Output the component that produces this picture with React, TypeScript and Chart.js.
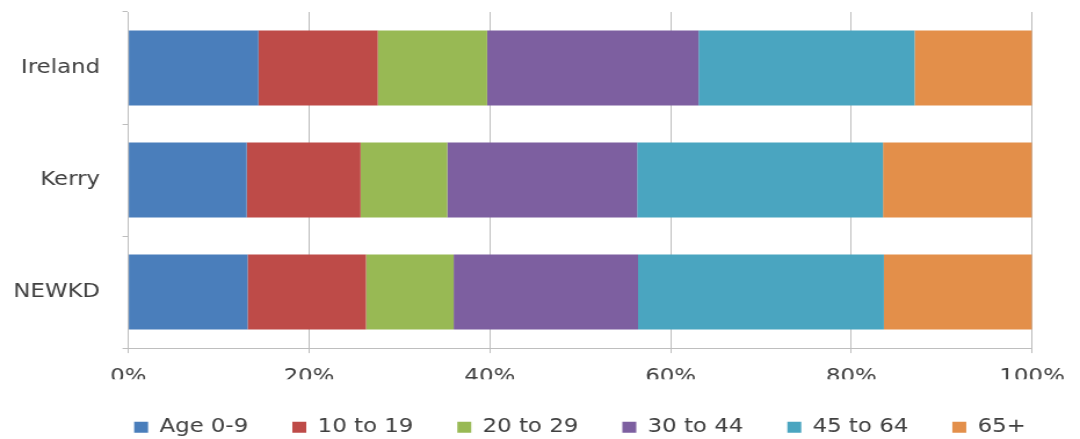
import { useEffect, useRef } from 'react';
import { Chart, registerables } from 'chart.js';

Chart.register(...registerables);

// ---- data ----
const categories = ['Ireland', 'Kerry', 'NEWKD'];
const seriesNames = ['Age 0-9', '10 to 19', '20 to 29', '30 to 44', '45 to 64', '65+'];
const age0to9 = [14.4, 13.1, 13.2];
const age10to19 = [13.2, 12.6, 13.1];
const age20to29 = [12.1, 9.6, 9.7];
const age30to44 = [23.4, 21.0, 20.4];
const age45to64 = [23.9, 27.2, 27.2];
const age65plus = [13.0, 16.5, 16.4];
const xTickValues = [0, 20, 40, 60, 80, 100];

const seriesValues = [age0to9, age10to19, age20to29, age30to44, age45to64, age65plus];
const seriesColors = ['#4A7EBB', '#BE4B48', '#98B954', '#7D5FA0', '#4AA5C0', '#E38F4A'];

// ---- layout (the reference text is horizontally stretched, so the canvas is too) ----
const W = 1080;
const H = 439;
const IW = 931;
const IH = 447;
const FONT = "'DejaVu Sans', sans-serif";
const FS = 19.7;
const TEXT = '#404040';
const GRID = '#BEBEBE';
const LEGEND_LEFT = 69;

const legendShift = {
  id: 'legendShift',
  afterLayout(chart: any) {
    const lg = chart.legend;
    if (lg) {
      lg.left = LEGEND_LEFT;
      lg.width = lg.right - lg.left;
    }
  },
};

export default function App() {
  const ref = useRef<HTMLCanvasElement>(null);

  useEffect(() => {
    document.body.style.margin = '0';
    const canvas = ref.current;
    if (!canvas) return;
    const chart = new Chart(canvas, {
      type: 'bar',
      data: {
        labels: categories,
        datasets: seriesNames.map((name, i) => ({
          label: name,
          data: seriesValues[i],
          backgroundColor: seriesColors[i],
          borderWidth: 0,
          barPercentage: 0.67,
          categoryPercentage: 1.0,
        })),
      },
      options: {
        indexAxis: 'y',
        responsive: false,
        animation: false,
        layout: { padding: { left: 0, right: 0, top: 12, bottom: 0 } },
        font: { family: FONT, size: FS },
        plugins: {
          tooltip: { enabled: false },
          legend: {
            position: 'bottom',
            align: 'center',
            labels: {
              font: { family: FONT, size: FS },
              color: TEXT,
              boxWidth: 12,
              boxHeight: 11,
              padding: 38,
            },
          },
        },
        scales: {
          x: {
            stacked: true,
            min: 0,
            max: 100,
            afterBuildTicks: (s: any) => {
              s.ticks = xTickValues.map((v) => ({ value: v }));
            },
            afterFit: (s: any) => {
              s.height = 31.2;
            },
            ticks: {
              font: { family: FONT, size: FS },
              color: TEXT,
              padding: 12,
              maxRotation: 0,
              callback: (v: any) => `${v}%`,
            },
            grid: { color: GRID, lineWidth: 1, tickLength: 5, drawTicks: true },
            border: { display: true, color: GRID, width: 1 },
          },
          y: {
            stacked: true,
            afterFit: (s: any) => {
              s.width = 110.6;
              s.paddingTop = 0;
              s.paddingBottom = 0;
            },
            ticks: {
              font: { family: FONT, size: FS },
              color: TEXT,
              padding: 19.4,
            },
            grid: { color: GRID, drawOnChartArea: false, tickLength: 5, offset: true },
            border: { display: true, color: GRID, width: 1 },
          },
          y2: {
            type: 'linear',
            position: 'right',
            display: true,
            afterFit: (s: any) => {
              s.width = 41.3;
              s.paddingTop = 0;
              s.paddingBottom = 0;
            },
            ticks: { display: false },
            grid: { display: false },
            border: { display: false },
          },
        },
      },
      plugins: [legendShift],
    } as any);
    return () => chart.destroy();
  }, []);

  return (
    <div style={{ width: W, height: H, overflow: 'hidden', background: '#fff' }}>
      <canvas
        ref={ref}
        width={IW}
        height={IH}
        style={{ width: `${W}px`, height: `${IH}px`, display: 'block' }}
      />
    </div>
  );
}
